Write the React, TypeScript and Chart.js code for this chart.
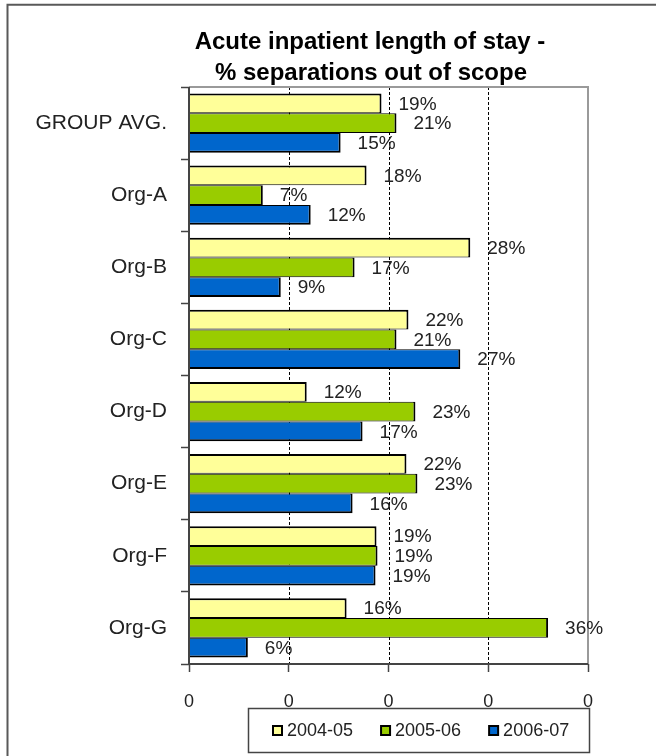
import React, { useEffect, useRef } from "react";
import { Chart, registerables } from "chart.js";

Chart.register(...registerables);

// ---- data ----
const categories = ["GROUP AVG.", "Org-A", "Org-B", "Org-C", "Org-D", "Org-E", "Org-F", "Org-G"];
const seriesNames = ["2004-05", "2005-06", "2006-07"];
const values2004 = [0.193, 0.178, 0.282, 0.22, 0.118, 0.218, 0.188, 0.158];
const values2005 = [0.208, 0.074, 0.166, 0.208, 0.227, 0.229, 0.189, 0.36];
const values2006 = [0.152, 0.122, 0.092, 0.272, 0.174, 0.164, 0.187, 0.059];
const seriesColors = ["#FFFF99", "#99CC00", "#0066CC"];
const xTicks = [0, 0.1, 0.2, 0.3, 0.4];
const xTickLabels = ["0", "0", "0", "0", "0"];
const titleLines = ["Acute inpatient length of stay -", "% separations out of scope"];

const FONT = '"Liberation Sans", Arial, sans-serif';

const decorPlugin = {
  id: "decor",
  beforeDraw(chart: any) {
    const { ctx, width, height } = chart;
    ctx.save();
    ctx.fillStyle = "#ffffff";
    ctx.fillRect(0, 0, width, height);
    // outer frame (left & top visible)
    ctx.strokeStyle = "#595959";
    ctx.lineWidth = 2;
    ctx.beginPath();
    ctx.moveTo(7.5, height + 5);
    ctx.lineTo(7.5, 4.8);
    ctx.lineTo(width + 5, 4.8);
    ctx.stroke();
    // title
    ctx.fillStyle = "#000000";
    ctx.font = "bold 24px " + FONT;
    ctx.textAlign = "center";
    ctx.textBaseline = "alphabetic";
    ctx.fillText(titleLines[0], 370, 49);
    ctx.fillText(titleLines[1], 371, 80);
    ctx.restore();
  },
  beforeDatasetsDraw(chart: any) {
    const { ctx, chartArea } = chart;
    const xs = chart.scales.x;
    ctx.save();
    // dashed grid lines
    ctx.strokeStyle = "#000000";
    ctx.lineWidth = 1;
    ctx.setLineDash([3, 2]);
    for (let i = 1; i < xTicks.length - 1; i++) {
      const px = Math.round(xs.getPixelForValue(xTicks[i])) + 0.5;
      ctx.beginPath();
      ctx.moveTo(px, chartArea.top);
      ctx.lineTo(px, chartArea.bottom);
      ctx.stroke();
    }
    ctx.setLineDash([]);
    // plot frame top & right
    ctx.strokeStyle = "#9a9a9a";
    ctx.lineWidth = 2;
    ctx.beginPath();
    ctx.moveTo(chartArea.left, chartArea.top);
    ctx.lineTo(chartArea.right, chartArea.top);
    ctx.lineTo(chartArea.right, chartArea.bottom);
    ctx.stroke();
    ctx.restore();
  },
  afterDatasetsDraw(chart: any) {
    const { ctx, chartArea } = chart;
    ctx.save();
    // axis lines
    ctx.strokeStyle = "#444444";
    ctx.lineWidth = 2;
    ctx.beginPath();
    ctx.moveTo(chartArea.left, chartArea.top);
    ctx.lineTo(chartArea.left, chartArea.bottom);
    ctx.lineTo(chartArea.right, chartArea.bottom);
    ctx.stroke();
    // data labels
    ctx.fillStyle = "#222222";
    ctx.font = "19px " + FONT;
    ctx.textAlign = "left";
    ctx.textBaseline = "middle";
    chart.data.datasets.forEach((ds: any, di: number) => {
      const meta = chart.getDatasetMeta(di);
      meta.data.forEach((el: any, i: number) => {
        const v = ds.data[i];
        ctx.fillText(Math.round(v * 100) + "%", el.x + 17, el.y + 1);
      });
    });
    ctx.restore();
  },
  afterDraw(chart: any) {
    const { ctx } = chart;
    ctx.save();
    // legend box
    ctx.strokeStyle = "#444444";
    ctx.lineWidth = 1.5;
    ctx.strokeRect(248.5, 708.5, 341, 44);
    ctx.font = "18px " + FONT;
    ctx.textBaseline = "middle";
    ctx.textAlign = "left";
    let x = 272;
    const cy = 730.5;
    chart.data.datasets.forEach((ds: any) => {
      ctx.fillStyle = "#000000";
      ctx.fillRect(x, cy - 5.5, 11, 11);
      ctx.fillStyle = ds.backgroundColor;
      ctx.fillRect(x + 2, cy - 3.5, 7, 7);
      ctx.fillStyle = "#222222";
      ctx.fillText(ds.label, x + 15, cy + 1);
      const w = ctx.measureText(ds.label).width;
      x += 15 + w + 27;
    });
    ctx.restore();
  },
};

export default function App() {
  const ref = useRef<HTMLCanvasElement | null>(null);

  useEffect(() => {
    if (!ref.current) return;
    const datasetsValues = [values2004, values2005, values2006];
    const borders = [
      { top: 2, right: 2, bottom: 1, left: 0 },
      { top: 1, right: 2, bottom: 1, left: 0 },
      { top: 1, right: 2, bottom: 2, left: 0 },
    ];
    const chart = new Chart(ref.current, {
      type: "bar",
      data: {
        labels: categories,
        datasets: seriesNames.map((name, i) => ({
          label: name,
          data: datasetsValues[i],
          backgroundColor: seriesColors[i],
          borderColor: "#000000",
          borderWidth: borders[i] as any,
          borderSkipped: "start" as any,
          categoryPercentage: 0.82,
          barPercentage: 1.0,
        })),
      },
      options: {
        indexAxis: "y",
        responsive: false,
        animation: false,
        devicePixelRatio: 1,
        layout: { padding: { left: 0, top: 87, right: 68, bottom: 32 } },
        plugins: {
          legend: { display: false },
          title: { display: false },
          tooltip: { enabled: false },
        },
        scales: {
          x: {
            type: "linear",
            min: 0,
            max: 0.4,
            afterBuildTicks: (s: any) => {
              s.ticks = xTicks.map((v) => ({ value: v }));
            },
            afterFit: (s: any) => {
              s.height = 60;
            },
            border: { display: false },
            grid: {
              drawOnChartArea: false,
              drawTicks: true,
              tickLength: 8,
              tickColor: "#444444",
              tickWidth: 1.5,
            },
            ticks: {
              padding: 19,
              color: "#222222",
              font: { family: FONT, size: 18 },
              maxRotation: 0,
              callback: (_v: any, i: number) => xTickLabels[i],
            },
          },
          y: {
            type: "category",
            afterFit: (s: any) => {
              s.width = 189;
            },
            border: { display: false },
            grid: {
              offset: true,
              drawOnChartArea: false,
              drawTicks: true,
              tickLength: 8,
              tickColor: "#444444",
              tickWidth: 1.5,
            },
            ticks: {
              padding: 14,
              color: "#222222",
              font: { family: FONT, size: 21 },
            },
          },
        },
      },
      plugins: [decorPlugin],
    });
    return () => chart.destroy();
  }, []);

  return (
    <div style={{ position: "absolute", left: 0, top: 0, width: 656, height: 756, overflow: "hidden" }}>
      <canvas ref={ref} width={656} height={756} style={{ width: 656, height: 756, display: "block" }} />
    </div>
  );
}
